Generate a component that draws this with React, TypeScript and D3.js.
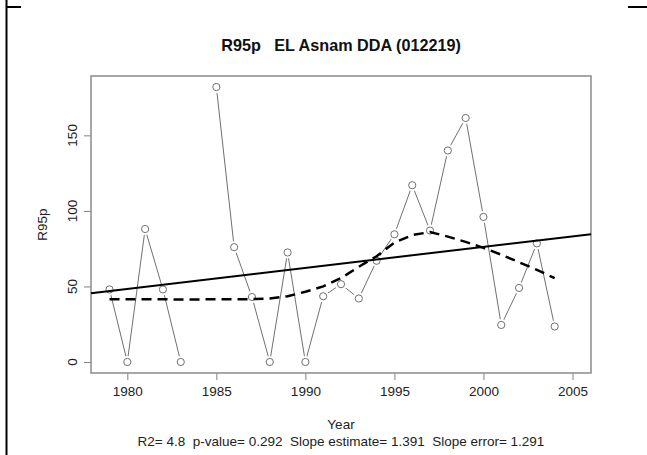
import React, { useEffect, useRef } from 'react';
import * as d3 from 'd3';

// R95p series, EL Asnam DDA (012219); 1984 is missing
const years = [1979, 1980, 1981, 1982, 1983, 1984, 1985, 1986, 1987, 1988, 1989, 1990, 1991,
  1992, 1993, 1994, 1995, 1996, 1997, 1998, 1999, 2000, 2001, 2002, 2003, 2004];
const r95p = [48, 0, 88, 48, 0, null, 182, 76, 43, 0, 72.5, 0, 43.5,
  51.5, 42, 67, 84.5, 117, 87, 140, 161.5, 96, 24.5, 49, 78.5, 23.5];
// loess smooth at the same years
const smooth = [41.5, 41.5, 41.5, 41.5, 41.3, null, 41.5, 41.5, 41.6, 42, 43.5, 46.5, 50,
  55.5, 63, 70, 79, 84, 86, 83, 79.5, 75.5, 71, 66, 61, 55.5];
const trendSlope = 1.391;
const trendIntercept = -2705.8;
const xTicks = [1980, 1985, 1990, 1995, 2000, 2005];
const yTicks = [0, 50, 100, 150];
const title = 'R95p   EL Asnam DDA (012219)';
const yLabel = 'R95p';
const xLabel = 'Year';
const stats = 'R2= 4.8  p-value= 0.292  Slope estimate= 1.391  Slope error= 1.291';

const W = 647;
const H = 455;
const box = { left: 91, right: 591, top: 76, bottom: 373 };

const App: React.FC = () => {
  const ref = useRef<SVGSVGElement | null>(null);

  useEffect(() => {
    if (!ref.current) return;
    const svg = d3.select(ref.current);
    svg.selectAll('*').remove();

    const x = d3.scaleLinear().domain([1977.96, 2006.04]).range([box.left, box.right]);
    const y = d3.scaleLinear().domain([-7.3, 189.3]).range([box.bottom, box.top]);
    const font = 'Liberation Sans, Arial, sans-serif';
    const fs = 13.5;

    // page frame marks
    svg.append('line').attr('x1', 6.5).attr('x2', 6.5).attr('y1', 0).attr('y2', H)
      .attr('stroke', '#000').attr('stroke-width', 2);
    svg.append('line').attr('x1', 6).attr('x2', 21).attr('y1', 7).attr('y2', 7)
      .attr('stroke', '#000').attr('stroke-width', 2);
    svg.append('line').attr('x1', 628).attr('x2', W).attr('y1', 7).attr('y2', 7)
      .attr('stroke', '#000').attr('stroke-width', 2);

    // observed series
    const pts = years.map((yr, i) => ({ yr, v: r95p[i] }));
    const line = d3.line<any>().defined(d => d.v != null).x(d => x(d.yr)).y(d => y(d.v));
    svg.append('path').attr('d', line(pts) as string)
      .attr('fill', 'none').attr('stroke', '#707070').attr('stroke-width', 1);
    const valid = pts.filter(d => d.v != null);
    svg.append('g').selectAll('circle').data(valid).join('circle')
      .attr('cx', d => x(d.yr)).attr('cy', d => y(d.v as number)).attr('r', 6)
      .attr('fill', '#fff');
    svg.append('g').selectAll('circle').data(valid).join('circle')
      .attr('cx', d => x(d.yr)).attr('cy', d => y(d.v as number)).attr('r', 3.6)
      .attr('fill', 'none').attr('stroke', '#707070').attr('stroke-width', 1);

    // axes
    const ax = svg.append('g').attr('transform', `translate(0,${box.bottom})`)
      .call(d3.axisBottom(x).tickValues(xTicks).tickFormat(d3.format('d')).tickSize(7).tickPadding(6));
    ax.select('.domain').remove();
    ax.selectAll('line').attr('stroke', '#808080');
    ax.selectAll('text').attr('font-size', fs).attr('font-family', font).attr('fill', '#222');

    const ay = svg.append('g').attr('transform', `translate(${box.left},0)`)
      .call(d3.axisLeft(y).tickValues(yTicks).tickSize(7));
    ay.select('.domain').remove();
    ay.selectAll('line').attr('stroke', '#808080');
    ay.selectAll('text').remove();
    yTicks.forEach(t => {
      svg.append('text').attr('transform', `translate(${box.left - 14},${y(t)}) rotate(-90)`)
        .attr('text-anchor', 'middle').attr('font-size', fs).attr('font-family', font)
        .attr('fill', '#222').text(t);
    });

    svg.append('rect').attr('x', box.left).attr('y', box.top)
      .attr('width', box.right - box.left).attr('height', box.bottom - box.top)
      .attr('fill', 'none').attr('stroke', '#8a8a8a').attr('stroke-width', 1.5);

    // linear trend across the plot region
    const [d0, d1] = x.domain();
    svg.append('line')
      .attr('x1', x(d0)).attr('y1', y(trendIntercept + trendSlope * d0))
      .attr('x2', x(d1)).attr('y2', y(trendIntercept + trendSlope * d1))
      .attr('stroke', '#000').attr('stroke-width', 2);

    // loess smooth
    const sm = years.map((yr, i) => ({ yr, v: smooth[i] })).filter(d => d.v != null);
    svg.append('path').attr('d', d3.line<any>().x(d => x(d.yr)).y(d => y(d.v))(sm) as string)
      .attr('fill', 'none').attr('stroke', '#000').attr('stroke-width', 2.5)
      .attr('stroke-dasharray', '10,6');

    // titles
    const cx = (box.left + box.right) / 2;
    svg.append('text').attr('x', cx).attr('y', 51).attr('text-anchor', 'middle')
      .attr('font-size', 16.2).attr('font-weight', 'bold').attr('font-family', font)
      .attr('fill', '#111').style('white-space', 'pre').text(title);
    svg.append('text').attr('transform', `translate(47,${(box.top + box.bottom) / 2}) rotate(-90)`)
      .attr('text-anchor', 'middle').attr('font-size', fs).attr('font-family', font)
      .attr('fill', '#222').text(yLabel);
    svg.append('text').attr('x', cx).attr('y', 429).attr('text-anchor', 'middle')
      .attr('font-size', fs).attr('font-family', font).attr('fill', '#222').text(xLabel);
    svg.append('text').attr('x', cx).attr('y', 446).attr('text-anchor', 'middle')
      .attr('font-size', fs).attr('font-family', font).attr('fill', '#222')
      .style('white-space', 'pre').text(stats);
  }, []);

  return (
    <svg ref={ref} width={W} height={H}
      style={{ position: 'absolute', left: 0, top: 0, background: '#fff', display: 'block' }} />
  );
};

export default App;
